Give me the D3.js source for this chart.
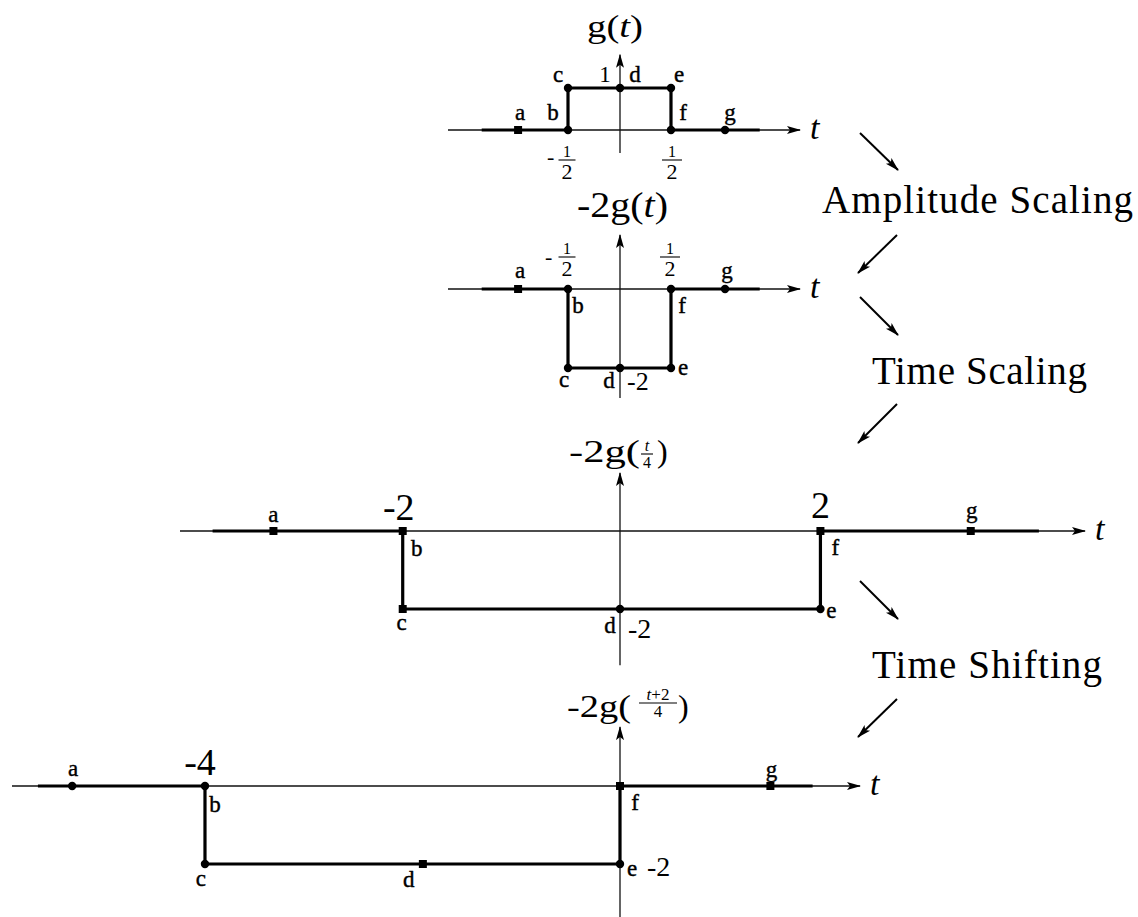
<html>
<head>
<script src="https://d3js.org/d3.v7.min.js"></script>
<style>
  body { margin: 0; background: #fff; }
  text { font-family: "Liberation Serif", "Times New Roman", Times, serif; fill: #000; }
</style>
</head>
<body>
<svg id="chart" width="1138" height="917"></svg>
<script>
// ---- data ----
const pointNames = ["a", "b", "c", "d", "e", "f", "g"];

// g(t)
const t1 = [-0.98, -0.5, -0.5, 0, 0.5, 0.5, 1.03];
const v1 = [0, 0, 1, 1, 1, 0, 0];
// -2g(t)
const t2 = [-0.98, -0.5, -0.5, 0, 0.5, 0.5, 1.03];
const v2 = [0, 0, -2, -2, -2, 0, 0];
// -2g(t/4)
const t3 = [-3.19, -2, -2, 0, 2, 2, 3.5];
const v3 = [0, 0, -2, -2, -2, 0, 0];
// -2g((t+2)/4)
const t4 = [-5.28, -4, -4, -1.9, 0, 0, 1.46];
const v4 = [0, 0, -2, -2, -2, 0, 0];

// thick signal runs from / to (t units)
const signalEnds = [[-1.33, 1.37], [-1.33, 1.37], [-3.75, 4.18], [-5.61, 1.87]];
// axis extents
const tDomains = [[-1.654, 1.765], [-1.654, 1.765], [-4.05, 4.64], [-5.86, 2.33]];
const vDomains = [[-0.55, 1.79], [-2.76, 1.37], [-3.44, 1.49], [-3.36, 1.51]];

const stepLabels = ["Amplitude Scaling", "Time Scaling", "Time Shifting"];

// ---- layout ----
const svg = d3.select("#chart");
const X0 = 620;

const panels = [
  { t: t1, v: v1, xLeft: 448, xRight: 800, y0: 130, yPx: 42,
    shapes: "soooooo",
    offs: [[2,-10],[-15,-10],[-10,-6],[15,-6],[8,-6],[12,-10],[5,-10]] },
  { t: t2, v: v2, xLeft: 448, xRight: 800, y0: 289, yPx: 39.5,
    shapes: "soooooo",
    offs: [[2,-11],[10,24],[-4,19],[-11,20],[12,7],[11,24],[2,-11]] },
  { t: t3, v: v3, xLeft: 180, xRight: 1085, y0: 531, yPx: 39,
    shapes: "sssooss",
    offs: [[0,-9],[14,25],[-1,21],[-10,24],[11,9],[15,24],[1,-13]] },
  { t: t4, v: v4, xLeft: 12, xRight: 860, y0: 786, yPx: 39,
    shapes: "ooososs",
    offs: [[1,-10],[10,26],[-4,22],[-14,23],[12,12],[15,24],[1,-9]] }
];

const defs = svg.append("defs");
defs.append("marker")
    .attr("id", "head")
    .attr("viewBox", "0 0 14 10")
    .attr("refX", 13).attr("refY", 5)
    .attr("markerWidth", 14).attr("markerHeight", 10)
    .attr("markerUnits", "userSpaceOnUse")
    .attr("orient", "auto")
  .append("path")
    .attr("d", "M0,1 L14,5 L0,9 L3,5 Z")
    .attr("fill", "#000");

const line = d3.line();

panels.forEach((p, i) => {
  const g = svg.append("g");
  const [tMin, tMax] = tDomains[i];
  const x = d3.scaleLinear().domain([tMin, 0, tMax]).range([p.xLeft, X0, p.xRight]);
  const y = d3.scaleLinear().domain([0, 1]).range([p.y0, p.y0 - p.yPx]);
  const [vMin, vMax] = vDomains[i];

  // axes
  g.append("path")
    .attr("d", line([[x(tMin), y(0)], [x(tMax), y(0)]]))
    .attr("stroke", "#111").attr("stroke-width", 1.3).attr("fill", "none")
    .attr("marker-end", "url(#head)");
  g.append("path")
    .attr("d", line([[x(0), y(vMin)], [x(0), y(vMax)]]))
    .attr("stroke", "#111").attr("stroke-width", 1.3).attr("fill", "none")
    .attr("marker-end", "url(#head)");
  g.append("text")
    .attr("x", p.xRight + 10).attr("y", p.y0 + 9)
    .attr("font-size", 34).attr("font-style", "italic")
    .text("t");

  // signal
  const pts = [[signalEnds[i][0], 0]]
    .concat(p.t.map((t, k) => [t, p.v[k]]))
    .concat([[signalEnds[i][1], 0]]);
  g.append("path")
    .attr("d", line(pts.map(d => [x(d[0]), y(d[1])])))
    .attr("stroke", "#000").attr("stroke-width", 3.2).attr("fill", "none")
    .attr("stroke-linejoin", "miter");

  // point markers
  p.t.forEach((t, k) => {
    if (p.shapes[k] === "s") {
      g.append("rect")
        .attr("x", x(t) - 4).attr("y", y(p.v[k]) - 4)
        .attr("width", 8).attr("height", 8).attr("fill", "#000");
    } else {
      g.append("circle")
        .attr("cx", x(t)).attr("cy", y(p.v[k])).attr("r", 4.2).attr("fill", "#000");
    }
    g.append("text")
      .attr("x", x(t) + p.offs[k][0]).attr("y", y(p.v[k]) + p.offs[k][1])
      .attr("text-anchor", "middle").attr("font-size", 23)
      .attr("stroke", "#000").attr("stroke-width", 0.4)
      .text(pointNames[k]);
  });

  p.x = x; p.y = y; p.g = g;
});

// fraction helper
function frac(g, cx, barY, num, den, numSize, denSize, barW, italicNum) {
  const n = g.append("text").attr("x", cx).attr("y", barY - 3)
    .attr("text-anchor", "middle").attr("font-size", numSize);
  if (italicNum) {
    n.append("tspan").attr("font-style", "italic").text("t");
    if (num.length > 1) n.append("tspan").text(num.slice(1));
  } else n.text(num);
  g.append("line")
    .attr("x1", cx - barW / 2).attr("x2", cx + barW / 2)
    .attr("y1", barY).attr("y2", barY)
    .attr("stroke", "#000").attr("stroke-width", 1.1);
  g.append("text").attr("x", cx).attr("y", barY + denSize * 0.85)
    .attr("text-anchor", "middle").attr("font-size", denSize).text(den);
}

// title with a fraction argument: "-2g(" frac ")"
function fracTitle(g, o) {
  g.append("text").attr("x", o.x).attr("y", o.base).attr("font-size", o.size)
    .attr("textLength", o.headW).attr("lengthAdjust", "spacingAndGlyphs")
    .text("-2g(");
  frac(g, o.fx, o.barY, o.num, "4", o.fSize, o.fSize, o.barW, true);
  g.append("text").attr("x", o.tailX).attr("y", o.base).attr("font-size", o.size)
    .text(")");
}

function plainTitle(g, x, base, size, width, head) {
  g.append("text").attr("x", x).attr("y", base).attr("font-size", size)
    .attr("textLength", width).attr("lengthAdjust", "spacingAndGlyphs")
    .call(s => {
      s.append("tspan").text(head);
      s.append("tspan").attr("font-style", "italic").text("t");
      s.append("tspan").text(")");
    });
}

// ---- panel 1 labels ----
{
  const p = panels[0], g = p.g;
  plainTitle(g, 587, 37, 31, 56, "g(");
  g.append("text").attr("x", p.x(0) - 15).attr("y", p.y(1) - 6)
    .attr("text-anchor", "middle").attr("font-size", 23).text("1");
  frac(g, p.x(-0.5) - 1, 160, "1", "2", 16, 22, 17, false);
  g.append("text").attr("x", p.x(-0.5) - 21).attr("y", 164).attr("font-size", 22).text("-");
  frac(g, p.x(0.5) + 1, 160, "1", "2", 16, 22, 20, false);
}

// ---- panel 2 labels ----
{
  const p = panels[1], g = p.g;
  plainTitle(g, 577, 217, 35, 91, "-2g(");
  frac(g, p.x(-0.5) - 1, 257, "1", "2", 16, 22, 17, false);
  g.append("text").attr("x", p.x(-0.5) - 23).attr("y", 264).attr("font-size", 22).text("-");
  frac(g, p.x(0.5) - 1, 257, "1", "2", 16, 22, 20, false);
  g.append("text").attr("x", p.x(0) + 7).attr("y", p.y(-2) + 22).attr("font-size", 26).text("-2");
}

// ---- panel 3 labels ----
{
  const p = panels[2], g = p.g;
  fracTitle(g, { x: 569, base: 462, size: 32, headW: 71, fx: 647, barY: 454,
                 num: "t", fSize: 16, barW: 12, tailX: 657 });
  g.append("text").attr("x", p.x(-2) - 4).attr("y", p.y(0) - 11)
    .attr("text-anchor", "middle").attr("font-size", 38).text("-2");
  g.append("text").attr("x", p.x(2)).attr("y", p.y(0) - 13)
    .attr("text-anchor", "middle").attr("font-size", 38).text("2");
  g.append("text").attr("x", p.x(0) + 8).attr("y", p.y(-2) + 29).attr("font-size", 28).text("-2");
}

// ---- panel 4 labels ----
{
  const p = panels[3], g = p.g;
  fracTitle(g, { x: 567, base: 717, size: 32, headW: 64, fx: 658, barY: 703,
                 num: "t+2", fSize: 17, barW: 38, tailX: 678 });
  g.append("text").attr("x", p.x(-4) - 5).attr("y", p.y(0) - 11)
    .attr("text-anchor", "middle").attr("font-size", 38).text("-4");
  g.append("text").attr("x", p.x(0) + 27).attr("y", p.y(-2) + 12).attr("font-size", 28).text("-2");
}

// ---- transformation steps ----
const stepPos = [[822, 213, 311], [872, 384, 215], [872, 678, 230]];
stepLabels.forEach((s, i) => {
  svg.append("text")
    .attr("x", stepPos[i][0]).attr("y", stepPos[i][1])
    .attr("font-size", 39)
    .attr("textLength", stepPos[i][2]).attr("lengthAdjust", "spacing")
    .text(s);
});

const arrows = [
  [860, 133, 898, 170], [897, 235, 858, 273],
  [860, 297, 898, 335], [897, 404, 858, 443],
  [860, 581, 898, 619], [897, 699, 858, 737]
];
svg.append("g").selectAll("path").data(arrows).join("path")
  .attr("d", d => line([[d[0], d[1]], [d[2], d[3]]]))
  .attr("stroke", "#000").attr("stroke-width", 2).attr("fill", "none")
  .attr("marker-end", "url(#head)");
</script>
</body>
</html>
